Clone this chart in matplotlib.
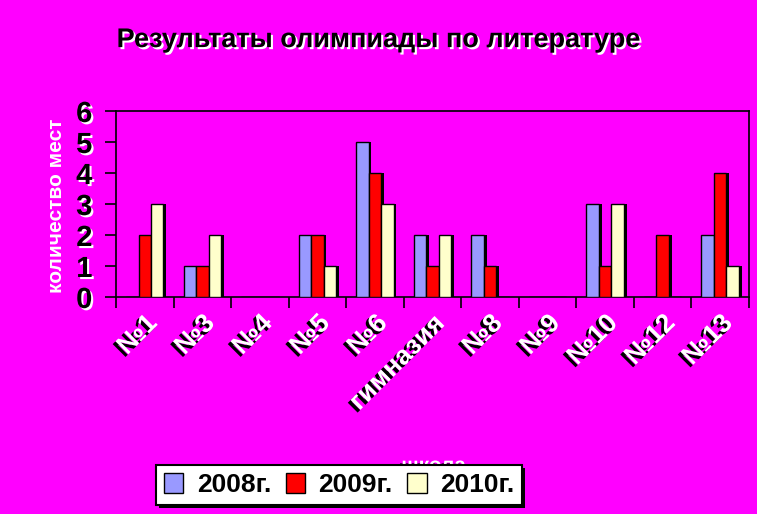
import matplotlib
matplotlib.use("Agg")
import matplotlib.pyplot as plt
import matplotlib.patheffects as pe
import numpy as np

# ---------------------------------------------------------------------------
# Data
# ---------------------------------------------------------------------------
schools = ["№1", "№3", "№4", "№5", "№6", "гимназия", "№8", "№9", "№10", "№12", "№13"]
years = ["2008г.", "2009г.", "2010г."]
res_2008 = [0, 1, 0, 2, 5, 2, 2, 0, 3, 0, 2]
res_2009 = [2, 1, 0, 2, 4, 1, 1, 0, 1, 2, 4]
res_2010 = [3, 2, 0, 1, 3, 2, 0, 0, 3, 0, 1]
yticks = [0, 1, 2, 3, 4, 5, 6]

BG = "#FF00FF"
colors = ["#9999FF", "#FF0000", "#FFFFCC"]

plt.rcParams["font.family"] = ["Liberation Sans", "DejaVu Sans"]

fig = plt.figure(figsize=(7.57, 5.14), dpi=100, facecolor=BG)
ax = fig.add_axes([0.1532, 0.4222, 0.8362, 0.3618])
ax.set_facecolor(BG)

x = np.arange(len(schools))
w = 0.217
bar_fx = [pe.SimplePatchShadow(offset=(2, 0), shadow_rgbFace="black", alpha=1.0), pe.Normal()]
for i, (vals, c, lab) in enumerate(zip([res_2008, res_2009, res_2010], colors, years)):
    bars = ax.bar(x + (i - 1) * w, vals, width=w, color=c, edgecolor="black",
                  linewidth=1.0, label=lab, zorder=3)
    for b in bars:
        if b.get_height() > 0:
            b.set_path_effects(bar_fx)

ax.set_xlim(-0.5, len(schools) - 0.5)
ax.set_ylim(0, 6)

# frame
for s in ax.spines.values():
    s.set_color("black")
    s.set_linewidth(1.2)

# y axis
ax.set_yticks(yticks)
white_shadow = [pe.withSimplePatchShadow(offset=(1.5, -1.5), shadow_rgbFace="white", alpha=1.0)]
ax.set_yticklabels([str(t) for t in yticks], fontsize=21, fontweight="bold", color="black")
for t in ax.get_yticklabels():
    t.set_path_effects(white_shadow)
ax.tick_params(axis="y", direction="out", length=8, width=1.2, color="black", pad=9)

# x axis: ticks between categories, labels at centres
ax.set_xticks(x)
ax.set_xticks(np.arange(-0.5, len(schools), 1.0), minor=True)
ax.tick_params(axis="x", which="major", length=0, pad=10)
ax.tick_params(axis="x", which="minor", direction="out", length=8, width=1.2, color="black")
ax.set_xticklabels(schools, rotation=45, ha="right", va="top", rotation_mode="anchor",
                   fontsize=19, fontweight="bold", color="white")
black_shadow = [pe.withSimplePatchShadow(offset=(-2, -2), shadow_rgbFace="black", alpha=1.0)]
for t in ax.get_xticklabels():
    t.set_path_effects(black_shadow)

# y label
fig.text(0.074, 0.6, "количество мест", rotation=90, ha="center", va="center",
         fontsize=15, fontweight="bold", color="white")

# title
fig.text(0.5, 0.922, "Результаты олимпиады по литературе", ha="center", va="center",
         fontsize=19.5, fontweight="bold", color="black",
         path_effects=[pe.withSimplePatchShadow(offset=(1.5, -1.5), shadow_rgbFace="white", alpha=1.0)])

# x axis title (mostly hidden behind the legend)
fig.text(0.573, 0.093, "школа", ha="center", va="center", fontsize=15,
         fontweight="bold", color="white", zorder=1,
         path_effects=black_shadow)

leg = fig.legend(loc="center", bbox_to_anchor=(0.448, 0.056), ncol=3,
                 prop={"weight": "bold", "size": 19}, frameon=True, fancybox=False,
                 shadow=False, handlelength=0.75, handleheight=0.75, handletextpad=0.5,
                 columnspacing=0.55, borderpad=0.3, borderaxespad=0)
leg.get_frame().set_facecolor("white")
leg.get_frame().set_edgecolor("black")
leg.get_frame().set_linewidth(1.5)
leg.get_frame().set_alpha(1.0)
leg.get_frame().set_path_effects([pe.SimplePatchShadow(offset=(2, -2), shadow_rgbFace="black", alpha=1.0), pe.Normal()])
leg.set_zorder(10)
for h in leg.legend_handles:
    h.set_path_effects([])

fig.savefig("out.png", dpi=100, facecolor=BG)
